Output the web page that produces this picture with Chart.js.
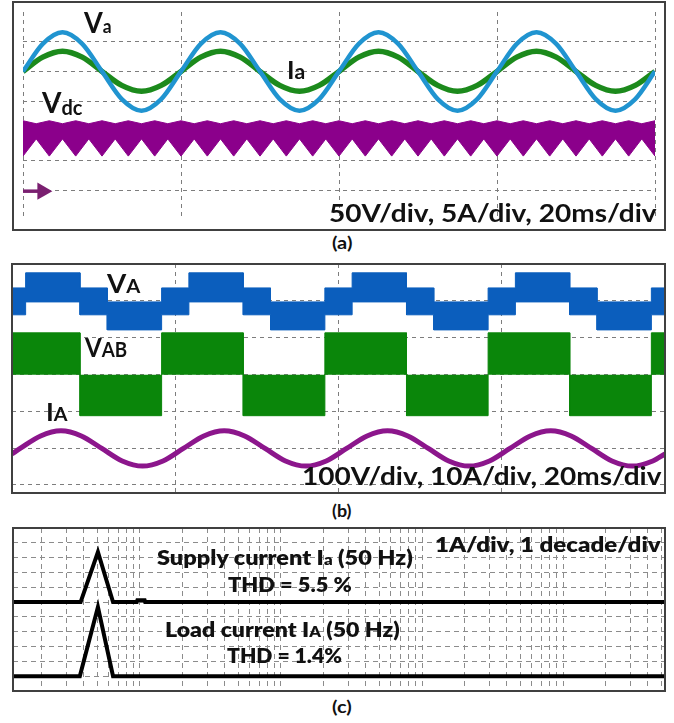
<!DOCTYPE html>
<html>
<head>
<meta charset="utf-8">
<title>Supply, load and DC-link waveforms</title>
<script src="https://cdn.jsdelivr.net/npm/chart.js"></script>
<style>
  body { margin: 0; background: #fff; }
  #page { position: relative; width: 674px; height: 723px; overflow: hidden; font-family: Lato, "Open Sans", sans-serif; }
  .box { position: absolute; }
  .frame { position: absolute; border: 2px solid #404040; box-sizing: border-box; pointer-events: none; }
  .lbl { position: absolute; white-space: nowrap; font-weight: 700; color: #111; line-height: 1.2; transform-origin: 0 0; }
  .heavy { font-weight: 800; }
  .bl { display: inline-block; width: 0; height: 0; }
</style>
</head>
<body>
<div id="page">
  <div class="box" style="left:13px;top:2px;width:652px;height:228px"><canvas id="chartA"></canvas></div>
  <div class="frame" style="left:12px;top:1px;width:654px;height:230px"></div>

  <div class="box" style="left:12px;top:264px;width:653px;height:229px"><canvas id="chartB"></canvas></div>
  <div class="frame" style="left:11px;top:263px;width:655px;height:231px"></div>

  <div class="box" style="left:13px;top:528px;width:652px;height:163px"><canvas id="chartC"></canvas></div>
  <div class="frame" style="left:12px;top:527px;width:654px;height:165px"></div>

  <!-- panel (a) -->
  <div class="lbl" data-x="84" data-b="33" data-w="28" style="font-size:28px">V<span style="font-size:18px">a</span><span class="bl"></span></div>
  <div class="lbl" data-x="287" data-b="79" data-w="18" style="font-size:24px">I<span style="font-size:20px">a</span><span class="bl"></span></div>
  <div class="lbl" data-x="42" data-b="113" data-w="40" style="font-size:28px">V<span style="font-size:20px;position:relative;top:2px">dc</span><span class="bl"></span></div>
  <div class="lbl" data-x="329" data-b="222" data-w="327" style="font-size:24px">50V/div, 5A/div, 20ms/div<span class="bl"></span></div>
  <div class="lbl" data-x="332" data-b="249" data-w="20" style="font-size:17px">(a)<span class="bl"></span></div>

  <!-- panel (b) -->
  <div class="lbl" data-x="107" data-b="293" data-w="33" style="font-size:26px">V<span style="font-size:19px">A</span><span class="bl"></span></div>
  <div class="lbl" data-x="85" data-b="357" data-w="42" style="font-size:27px">V<span style="font-size:21px">AB</span><span class="bl"></span></div>
  <div class="lbl" data-x="46" data-b="421" data-w="22" style="font-size:24px">I<span style="font-size:18px">A</span><span class="bl"></span></div>
  <div class="lbl" data-x="302" data-b="485" data-w="359" style="font-size:24px">100V/div, 10A/div, 20ms/div<span class="bl"></span></div>
  <div class="lbl" data-x="332" data-b="517" data-w="20" style="font-size:17px">(b)<span class="bl"></span></div>

  <!-- panel (c) -->
  <div class="lbl heavy" data-x="435" data-b="552" data-w="226" style="font-size:20px">1A/div, 1 decade/div<span class="bl"></span></div>
  <div class="lbl heavy" data-x="157" data-b="565" data-w="256" style="font-size:21px">Supply current I<span style="font-size:15px">a</span> (50 Hz)<span class="bl"></span></div>
  <div class="lbl heavy" data-x="228" data-b="592" data-w="124" style="font-size:21px">THD = 5.5 %<span class="bl"></span></div>
  <div class="lbl heavy" data-x="165" data-b="637" data-w="235" style="font-size:21px">Load current I<span style="font-size:15px">A</span> (50 Hz)<span class="bl"></span></div>
  <div class="lbl heavy" data-x="227" data-b="663" data-w="115" style="font-size:21px">THD = 1.4%<span class="bl"></span></div>
  <div class="lbl" data-x="332" data-b="713" data-w="20" style="font-size:17px">(c)<span class="bl"></span></div>
</div>

<script>
// ---- panel (a): supply side, values in scope divisions (0 = bottom edge) ----
const tA = [0, 2.5, 5, 7.5, 10, 12.5, 15, 17.5, 20, 22.5, 25, 27.5, 30, 32.5, 35, 37.5,
            40, 42.5, 45, 47.5, 50, 52.5, 55, 57.5, 60, 62.5, 65, 67.5, 70, 72.5, 75, 77.5, 80];
const vaDiv = [5.0, 5.93, 6.32, 5.93, 5.0, 4.07, 3.68, 4.07,
               5.0, 5.93, 6.32, 5.93, 5.0, 4.07, 3.68, 4.07,
               5.0, 5.93, 6.32, 5.93, 5.0, 4.07, 3.68, 4.07,
               5.0, 5.93, 6.32, 5.93, 5.0, 4.07, 3.68, 4.07, 5.0];
const iaDiv = [5.0, 5.48, 5.68, 5.48, 5.0, 4.53, 4.33, 4.53,
               5.0, 5.48, 5.68, 5.48, 5.0, 4.53, 4.33, 4.53,
               5.0, 5.48, 5.68, 5.48, 5.0, 4.53, 4.33, 4.53,
               5.0, 5.48, 5.68, 5.48, 5.0, 4.53, 4.33, 4.53, 5.0];

// DC link ripple envelope (6 pulses per mains period)
const tDc = [0, 1.67, 3.33, 5, 6.67, 8.33, 10, 11.67, 13.33, 15, 16.67, 18.33,
             20, 21.67, 23.33, 25, 26.67, 28.33, 30, 31.67, 33.33, 35, 36.67, 38.33,
             40, 41.67, 43.33, 45, 46.67, 48.33, 50, 51.67, 53.33, 55, 56.67, 58.33,
             60, 61.67, 63.33, 65, 66.67, 68.33, 70, 71.67, 73.33, 75, 76.67, 78.33, 80];
const vdcTop = [3.34, 3.24, 3.34, 3.24, 3.34, 3.24, 3.34, 3.24, 3.34, 3.24, 3.34, 3.24,
                3.34, 3.24, 3.34, 3.24, 3.34, 3.24, 3.34, 3.24, 3.34, 3.24, 3.34, 3.24,
                3.34, 3.24, 3.34, 3.24, 3.34, 3.24, 3.34, 3.24, 3.34, 3.24, 3.34, 3.24,
                3.34, 3.24, 3.34, 3.24, 3.34, 3.24, 3.34, 3.24, 3.34, 3.24, 3.34, 3.24, 3.34];
const vdcBot = [2.15, 2.73, 2.15, 2.73, 2.15, 2.73, 2.15, 2.73, 2.15, 2.73, 2.15, 2.73,
                2.15, 2.73, 2.15, 2.73, 2.15, 2.73, 2.15, 2.73, 2.15, 2.73, 2.15, 2.73,
                2.15, 2.73, 2.15, 2.73, 2.15, 2.73, 2.15, 2.73, 2.15, 2.73, 2.15, 2.73,
                2.15, 2.73, 2.15, 2.73, 2.15, 2.73, 2.15, 2.73, 2.15, 2.73, 2.15, 2.73, 2.15];
// ground reference marker of Vdc
const markT = [0, 2.45];
const markDiv = [0.97, 0.97];

// ---- panel (b): converter side ----
const vaEdges = [0, 1.67, 8.33, 11.67, 18.33, 21.67, 28.33, 31.67, 38.33, 41.67,
                 48.33, 51.67, 58.33, 61.67, 68.33, 71.67, 78.33, 80];
const vaUpper = [5.35, 5.76, 5.35, 4.97, 5.35, 5.76, 5.35, 4.97, 5.35, 5.76, 5.35, 4.97,
                 5.35, 5.76, 5.35, 4.97, 5.35];
const vaLower = [4.62, 4.97, 4.62, 4.21, 4.62, 4.97, 4.62, 4.21, 4.62, 4.97, 4.62, 4.21,
                 4.62, 4.97, 4.62, 4.21, 4.62];
const vabEdges = [0, 8.33, 18.33, 28.33, 38.33, 48.33, 58.33, 68.33, 78.33, 80];
const vabLevel = [4.13, 1.88, 4.13, 1.88, 4.13, 1.88, 4.13, 1.88, 4.13];
const vabZero = 2.99;
const tIA = [0, 1, 3.5, 6, 8.5, 11, 13.5, 16, 18.5, 21, 23.5, 26, 28.5, 31, 33.5, 36, 38.5,
             41, 43.5, 46, 48.5, 51, 53.5, 56, 58.5, 61, 63.5, 66, 68.5, 71, 73.5, 76, 78.5, 80];
const iADiv = [0.84,
               0.99, 1.33, 1.47, 1.33, 0.99, 0.65, 0.51, 0.65,
               0.99, 1.33, 1.47, 1.33, 0.99, 0.65, 0.51, 0.65,
               0.99, 1.33, 1.47, 1.33, 0.99, 0.65, 0.51, 0.65,
               0.99, 1.33, 1.47, 1.33, 0.99, 0.65, 0.51, 0.65, 0.84];

// ---- panel (c): current spectra (Hz, divisions) ----
const fSupply = [12.6, 38, 50.4, 64.5, 95, 96, 108, 109, 528000];
const supplyDiv = [6, 6, 9.38, 6, 6, 6.13, 6.13, 6, 6];
const fLoad = [12.6, 37.5, 50.4, 64.5, 528000];
const loadDiv = [1, 1, 5.67, 1, 1];

// scope graticule
const gridTime = [0, 20, 40, 60, 80];
const gridDivA = [1, 2, 3, 4, 5, 6];
const gridDivB = [0, 1, 2, 3, 4, 5, 6];
const gridDivC = [1, 2, 3, 4, 5, 6, 7, 8, 9, 10];
const decades = [10, 100, 1000, 10000, 100000];
const mantissas = [1, 2, 3, 4, 5, 6, 7, 8, 9];
const gridFreq = [];
decades.forEach(d => mantissas.forEach(m => { if (d * m > 12.6 && d * m < 528000) gridFreq.push(d * m); }));

function pts(xs, ys) { return xs.map((x, i) => ({ x: x, y: ys[i] })); }
function steps(edges, levels) {
  const out = [];
  levels.forEach((v, i) => { out.push({ x: edges[i], y: v }); out.push({ x: edges[i + 1], y: v }); });
  return out;
}

function gridAxis(type, min, max, values, color, dash) {
  return {
    type: type, min: min, max: max,
    ticks: { display: false, autoSkip: false },
    grid: { color: color, lineWidth: 1, drawTicks: false },
    border: { display: false, dash: dash },
    afterBuildTicks: function (scale) { scale.ticks = values.map(v => ({ value: v })); }
  };
}

function scopeOptions(x, y) {
  return {
    responsive: true, maintainAspectRatio: false, animation: false, events: [],
    layout: { padding: 0 },
    plugins: { legend: { display: false }, tooltip: { enabled: false } },
    elements: { point: { radius: 0 } },
    scales: { x: x, y: y }
  };
}

new Chart(document.getElementById('chartA'), {
  type: 'line',
  data: {
    datasets: [
      { label: 'Va', data: pts(tA, vaDiv), borderColor: '#2094d0', borderWidth: 4.5, cubicInterpolationMode: 'monotone' },
      { label: 'Ia', data: pts(tA, iaDiv), borderColor: '#1c8a1c', borderWidth: 5.5, cubicInterpolationMode: 'monotone' },
      { label: 'Vdc', data: pts(tDc, vdcTop), borderColor: '#8b008b', backgroundColor: '#8b008b', borderWidth: 1, fill: '+1' },
      { label: 'Vdc low', data: pts(tDc, vdcBot), borderColor: '#8b008b', borderWidth: 1 },
      { label: 'ref', data: pts(markT, markDiv), borderColor: '#7a1f70', borderWidth: 3.5,
        pointRadius: [0, 10], pointStyle: 'triangle', pointRotation: 90,
        pointBackgroundColor: '#7a1f70', pointBorderWidth: 0 }
    ]
  },
  options: scopeOptions(gridAxis('linear', 0, 80, gridTime, '#7d7d7d', [4, 4]),
                       gridAxis('linear', 0, 7, gridDivA, '#7d7d7d', [4, 4]))
});

new Chart(document.getElementById('chartB'), {
  type: 'line',
  data: {
    datasets: [
      { label: 'VA', data: steps(vaEdges, vaUpper), borderColor: '#0b5ebd', backgroundColor: '#0b5ebd', borderWidth: 1, fill: '+1' },
      { label: 'VA low', data: steps(vaEdges, vaLower), borderColor: '#0b5ebd', borderWidth: 1 },
      { label: 'VAB', data: steps(vabEdges, vabLevel), borderColor: '#0a860a', backgroundColor: '#0a860a', borderWidth: 1, fill: { value: vabZero } },
      { label: 'IA', data: pts(tIA, iADiv), borderColor: '#8c168c', borderWidth: 5, cubicInterpolationMode: 'monotone' }
    ]
  },
  options: scopeOptions(gridAxis('linear', 0, 80, gridTime, '#7d7d7d', [4, 4]),
                       gridAxis('linear', -0.22, 6, gridDivB, '#7d7d7d', [4, 4]))
});

new Chart(document.getElementById('chartC'), {
  type: 'line',
  data: {
    datasets: [
      { label: 'Supply current Ia', data: pts(fSupply, supplyDiv), borderColor: '#000', borderWidth: 4 },
      { label: 'Load current IA', data: pts(fLoad, loadDiv), borderColor: '#000', borderWidth: 4 }
    ]
  },
  options: scopeOptions(gridAxis('logarithmic', 12.6, 528000, gridFreq, '#8c8c8c', [5, 4]),
                       gridAxis('linear', 0, 11, gridDivC, '#8c8c8c', [5, 4]))
});

// place annotation text on its baseline and stretch it to the measured width
function placeLabels() {
  document.querySelectorAll('.lbl').forEach(el => {
    el.style.transform = 'none';
    const mark = el.querySelector('.bl');
    const k = +el.dataset.w / el.offsetWidth;
    el.style.left = el.dataset.x + 'px';
    el.style.top = (+el.dataset.b - mark.offsetTop) + 'px';
    el.style.transform = 'scaleX(' + k.toFixed(3) + ')';
  });
}
placeLabels();
if (document.fonts) document.fonts.ready.then(placeLabels);
</script>
</body>
</html>
